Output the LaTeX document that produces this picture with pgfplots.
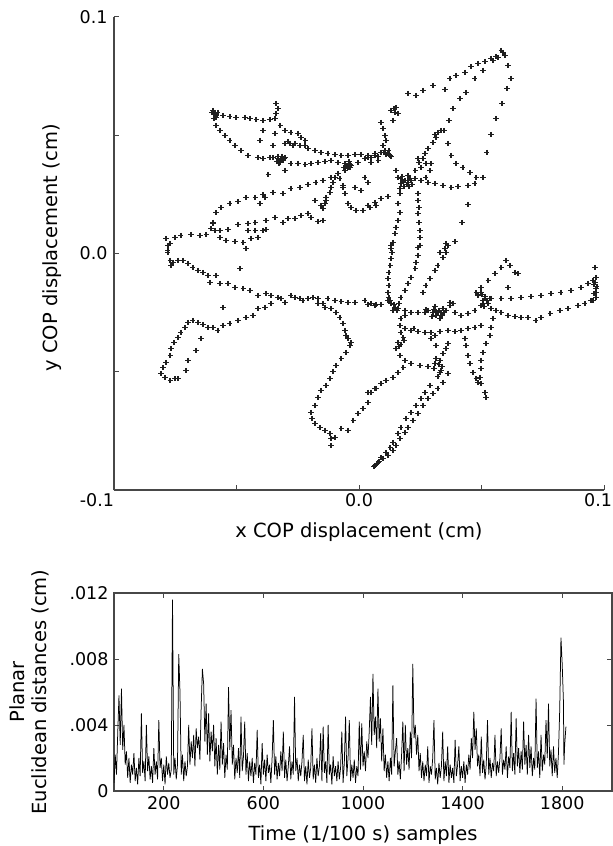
\documentclass[border=0pt]{standalone}
\usepackage{pgfplots}
\pgfplotsset{compat=1.18}
\usetikzlibrary{calc}
\usepackage{fontspec}
\setmainfont{DejaVu Sans}
\begin{document}
\begin{tikzpicture}[x=1pt,y=1pt]
\pgfplotsset{every axis/.append style={font=\fontsize{19.5}{22}\selectfont},
  every tick label/.append style={font=\fontsize{17.5}{20}\selectfont}}
% ---------------- top panel: COP trajectory ----------------
\begin{axis}[
  name=top,
  at={(0pt,0pt)}, anchor=south west,
  scale only axis, width=490pt, height=473pt,
  xmin=-100, xmax=100, ymin=-100, ymax=100,
  axis x line=bottom, axis y line=left,
  axis line style={-, line width=1.3pt, color=black!72},
  tick align=inside, major tick length=5pt,
  tick style={line width=1pt, color=black!72},
  xtick={-100,-50,0,50,100},
  xticklabels={\makebox[0pt][r]{-0.1},,0.0,,\makebox[0pt][r]{0.1\kern-8pt}},
  ytick={-100,-50,0,50,100},
  yticklabels={,,0.0,,0.1},
  yticklabel style={xshift=-3pt},
  xlabel={x COP displacement (cm)},
  ylabel={y COP displacement (cm)},
  xlabel style={at={(axis description cs:0.5,-0.0888)}, anchor=center},
  ylabel style={at={(axis description cs:-0.1265,0.512)}, anchor=center},
]
\addplot[only marks, mark=+, mark size=2.6pt, mark options={line width=1.35pt, black!88}] coordinates {
(-59.6,60.5)(-58.8,59.2)(-58.4,57.5)(-59.2,57.1)(-57.6,59.6)
(-55.5,58.4)(-52.7,57.9)(-50.2,57.5)(-46.5,57.5)(-44.5,57.1)(-42.0,56.7)(-39.2,56.2)(-36.3,56.7)(-34.3,57.1)
(-33.9,63.4)(-33.1,61.3)(-33.9,59.2)
(-32.2,54.1)(-30.2,52.0)(-27.8,51.2)(-24.9,50.7)(-23.7,49.0)(-22.0,47.8)
(-58.4,54.1)(-56.7,52.0)(-54.7,49.9)(-52.7,47.8)(-50.6,45.7)(-48.2,43.6)(-45.3,41.4)(-41.2,40.6)(-39.2,40.2)
(-39.2,52.0)(-40.4,47.8)(-37.1,33.4)(-34.3,50.7)(-35.1,45.7)(-30.2,35.1)
(-30.2,46.5)(-28.2,46.5)(-26.1,46.5)(-24.1,45.7)(-22.0,45.7)
(-35.1,40.6)(-33.1,40.2)(-31.0,39.3)(-30.2,40.6)(-32.2,38.5)
(-27.8,38.1)(-24.9,38.1)(-22.0,37.6)(-19.6,38.1)(-16.7,38.5)(-13.9,38.9)(-11.4,39.3)(-8.6,38.5)(-5.7,38.1)(-4.5,36.4)(-3.3,37.2)(-0.4,38.5)(2.4,40.2)(4.9,40.6)(7.8,41.0)
(-20.8,44.4)(-18.0,43.6)(-15.5,42.7)(-12.7,42.3)(-9.8,41.9)(-7.3,41.4)(-4.5,41.4)(-1.6,41.9)(0.8,41.9)(3.7,41.4)(6.5,42.3)
(-9.8,32.1)(-10.6,30.0)(-11.4,27.9)(-11.8,25.8)(-13.5,23.7)(-13.9,21.1)(-14.7,19.0)
(-7.8,31.7)(-6.5,27.9)(-5.7,25.4)(-4.5,21.1)(-3.3,19.5)(-1.2,18.2)(1.6,18.2)(4.5,19.5)(6.9,20.3)
(-1.6,27.9)(0.8,26.6)(2.4,32.1)(3.7,30.0)
(-58.4,17.3)(-56.3,19.5)(-52.7,21.1)(-49.4,22.0)(-46.1,23.7)(-42.4,23.7)(-39.2,24.9)(-35.1,25.8)(-31.0,25.4)(-27.8,27.5)(-24.1,27.9)(-20.8,29.2)(-17.6,30.0)(-14.7,30.9)(-11.4,32.1)(-8.6,33.8)(-5.7,35.1)(-3.7,36.4)
(-40.4,21.1)(-38.4,23.7)(-18.0,22.4)(-15.5,20.3)
(-59.6,13.1)(-56.7,9.7)(-53.5,10.1)(-49.4,12.3)(-45.3,12.7)(-42.4,13.1)(-38.0,14.0)(-34.3,15.2)(-31.0,13.1)(-29.0,14.8)(-26.1,14.8)(-23.7,16.1)(-20.8,16.9)(-19.6,15.2)(-16.7,13.5)(-14.7,14.0)
(-58.8,9.7)(-56.7,6.8)(-54.3,5.5)(-50.6,5.1)(-47.3,4.7)(-44.1,6.3)(-41.2,6.8)(-45.3,9.7)(-42.4,9.7)(-39.2,9.7)(-38.0,10.1)
(-46.1,2.1)
(-78.8,6.3)(-77.1,4.2)(-78.0,1.3)(-75.1,6.8)(-72.7,7.6)(-68.6,8.0)(-64.9,7.6)(-62.4,8.0)(-60.4,10.6)(-59.6,12.7)
(-78.0,3.4)(-78.0,0.4)(-77.1,-3.0)(-76.7,-5.1)(-75.9,-3.8)(-73.9,-3.0)(-71.8,-3.0)(-69.8,-4.2)(-67.8,-5.9)(-65.7,-7.2)(-63.7,-8.0)(-61.6,-9.3)(-60.8,-12.3)(-58.4,-9.3)(-56.7,-12.7)(-53.5,-12.7)(-50.6,-14.4)(-47.3,-14.8)(-44.5,-15.6)(-41.2,-17.8)(-38.0,-16.9)(-35.9,-17.8)(-33.1,-18.6)(-31.8,-19.0)(-30.2,-20.7)(-27.8,-17.8)(-26.1,-18.6)(-24.1,-19.0)(-22.9,-19.9)(-20.8,-19.0)(-18.8,-18.6)(-16.7,-19.0)(-14.7,-21.1)(-12.7,-19.0)(-9.8,-19.9)(-7.3,-20.3)(-4.5,-20.7)(-1.6,-20.7)(2.4,-19.9)(4.9,-21.1)(6.9,-21.6)
(-48.6,-6.3)
(-43.3,-26.2)(-46.1,-27.1)(-49.4,-28.3)(-52.7,-29.6)(-55.5,-30.4)(-57.6,-32.6)(-59.6,-31.3)(-61.6,-31.3)(-63.7,-30.0)(-65.7,-29.2)(-67.8,-28.3)(-69.8,-29.2)(-71.0,-31.3)(-72.7,-33.4)(-73.9,-35.5)(-75.5,-37.6)(-76.7,-40.2)(-77.1,-43.1)(-78.8,-46.1)(-80.0,-48.2)(-80.8,-50.7)(-79.2,-52.4)(-77.1,-53.7)(-75.1,-52.9)(-73.9,-52.9)
(-64.5,-35.9)(-66.5,-41.0)(-69.8,-45.2)(-70.6,-49.5)
(-55.5,-22.8)(-41.2,-23.3)(-38.4,-22.8)(-35.9,-21.1)
(-16.7,-21.1)(-13.9,-22.8)(-11.4,-23.3)(-9.4,-24.9)(-7.8,-27.1)(-6.5,-29.6)(-5.7,-32.6)(-5.3,-34.7)(-4.5,-35.9)(-3.3,-37.6)(-3.7,-38.9)(-5.3,-41.9)(-7.3,-44.4)(-9.4,-47.4)(-10.6,-49.9)(-11.8,-52.9)(-13.5,-55.8)(-15.5,-57.9)(-16.7,-60.9)(-18.0,-64.3)(-19.6,-67.2)(-19.2,-69.8)(-18.0,-71.9)(-15.9,-73.6)(-13.9,-74.8)(-11.8,-76.1)(-11.4,-78.2)(-11.4,-81.2)
(-9.8,-77.8)(-7.3,-74.0)(-4.5,-74.8)(-2.4,-70.6)(-0.4,-67.7)(1.6,-65.5)(3.7,-63.0)(4.9,-58.8)(6.9,-57.1)
(3.7,-21.6)(6.5,-22.0)(9.0,-21.6)
(13.1,3.4)(13.5,0.4)(13.1,-2.1)(12.7,-5.1)(12.2,-8.0)(11.8,-10.6)(12.2,-13.5)(11.8,-16.5)(12.2,-18.6)(12.7,-19.9)(13.1,-21.1)(14.7,-22.8)
(24.9,3.4)(24.1,-0.8)(23.3,-3.8)(22.9,-6.3)(21.2,-10.1)(20.0,-12.7)(18.8,-15.6)(17.1,-18.6)
(36.3,3.4)(35.5,0.4)(34.3,-1.7)(32.2,-5.1)(31.0,-7.2)(29.0,-10.6)(27.3,-13.5)(26.1,-16.5)
(60.0,-3.0)(58.0,-5.9)(55.5,-8.5)(52.7,-11.4)(49.8,-14.4)(47.8,-16.5)
(61.6,-5.1)(63.7,-8.0)(64.9,-8.5)(60.8,-14.4)
(53.9,-19.0)(58.0,-19.0)(62.0,-19.0)(66.1,-18.6)(70.2,-18.2)(74.3,-17.8)(78.4,-16.9)(82.4,-16.5)(86.5,-15.6)(90.6,-14.4)(93.5,-12.7)(95.5,-11.4)(96.7,-10.1)(96.3,-5.9)
(96.3,-12.3)(96.7,-14.8)(95.9,-16.9)(96.7,-18.6)(95.5,-19.9)(97.1,-13.9)
(94.7,-19.9)(92.2,-21.1)(89.4,-22.0)(85.3,-23.3)(82.0,-24.1)(78.0,-25.4)(74.3,-27.1)(72.2,-28.3)(69.0,-27.1)(66.1,-27.1)(63.7,-26.6)(60.8,-26.2)(58.0,-24.9)(55.9,-24.1)(53.9,-23.3)
(51.4,-19.0)(49.8,-16.5)(48.6,-17.8)(52.7,-21.1)(50.6,-19.9)
(28.2,-24.1)(30.2,-24.9)(32.2,-24.9)(33.5,-24.9)(35.5,-24.1)(37.1,-20.7)(38.4,-21.1)(31.4,-26.2)(34.3,-23.3)
(15.9,-23.3)(18.8,-24.1)(21.2,-24.9)(24.1,-24.9)(26.9,-24.9)(39.2,-24.9)(41.6,-26.2)(44.5,-25.4)(47.3,-24.1)(49.8,-22.0)
(18.8,-31.7)(21.2,-32.6)(24.1,-33.0)(26.9,-33.4)(29.4,-33.4)(33.1,-33.0)(36.3,-32.6)(39.2,-33.0)(41.6,-32.6)(44.5,-31.7)(47.3,-31.3)(49.8,-30.4)
(15.9,-37.6)(15.1,-40.2)(16.7,-43.1)(18.8,-45.2)(21.2,-46.5)(24.9,-47.4)(28.2,-47.8)(31.0,-46.5)(33.1,-45.2)(34.3,-42.3)(35.5,-40.2)(36.3,-38.1)
(31.4,-44.4)(32.7,-46.9)(33.5,-49.5)(33.1,-50.3)
(17.1,-27.5)(16.7,-30.4)(17.1,-33.4)(18.0,-35.5)(31.0,-34.7)(31.4,-38.9)(29.4,-35.9)
(43.3,-35.9)(43.7,-38.9)(44.5,-43.1)(45.3,-46.5)(46.5,-50.3)(47.8,-52.9)(49.8,-55.0)(51.4,-58.8)(51.8,-60.9)
(54.7,-27.5)(53.9,-31.3)(53.5,-34.7)(51.8,-38.1)(50.6,-41.9)(49.8,-45.2)(49.8,-48.6)(49.4,-52.4)(48.6,-54.5)
(36.3,-50.7)(34.3,-54.5)(32.2,-57.1)(30.2,-59.2)(28.2,-61.3)(26.1,-64.3)(24.1,-67.7)(22.0,-70.6)(20.0,-73.6)(18.8,-75.7)(16.7,-78.2)(15.1,-81.2)(13.9,-83.3)(11.8,-85.4)(9.8,-86.7)(7.8,-88.4)(6.5,-89.6)
(7.3,-88.8)(6.1,-90.1)(8.2,-88.0)
(29.0,-55.8)(26.9,-58.8)(25.3,-61.3)(23.3,-64.3)(21.2,-67.2)(19.2,-69.8)(17.1,-73.6)(15.9,-76.1)(13.9,-79.9)(12.7,-82.0)(11.0,-84.1)(9.0,-86.3)
(3.7,-58.8)(6.5,-57.1)(9.0,-55.0)(11.0,-53.7)(13.9,-52.4)(15.9,-50.3)(18.0,-48.2)
(3.7,40.6)(6.5,41.4)(9.0,42.7)(10.6,43.6)(11.8,42.3)(7.8,39.3)(4.9,38.5)
(9.0,55.4)(9.8,52.9)(10.6,49.9)(11.0,47.8)(9.8,45.7)
(13.1,60.5)(14.7,59.6)(15.1,61.7)(15.9,59.2)(13.9,56.2)
(15.1,35.1)(15.9,32.1)(17.1,29.6)(16.7,25.4)(15.9,21.1)(16.7,17.3)(15.9,14.0)(15.1,11.0)(14.7,8.5)(13.9,4.7)(13.1,2.1)
(18.8,30.9)(20.0,30.0)(21.2,30.9)
(24.1,25.4)(24.1,22.4)(24.5,19.5)(24.1,16.9)(24.5,13.1)(24.9,9.7)(24.9,6.8)(24.1,2.5)
(3.7,20.3)(6.5,21.6)(9.0,23.3)(11.8,24.1)
(20.0,67.7)(23.3,66.8)(26.1,68.9)(30.2,71.0)(35.1,69.3)(37.1,74.0)(39.6,75.3)(43.3,76.5)(45.7,79.1)(48.6,80.3)(51.4,81.2)(53.9,82.5)(56.7,82.9)(58.8,85.0)
(58.0,85.8)(59.6,83.7)(55.9,83.3)
(62.0,74.0)(60.4,69.8)(58.4,63.4)(55.9,57.1)(53.9,50.3)(52.2,42.7)(44.5,20.7)(42.0,13.1)(39.2,5.1)(60.8,79.5)
(54.7,81.6)(50.6,77.4)(47.3,74.0)(43.7,68.1)(41.2,65.5)(38.4,61.3)(36.7,56.2)(34.7,52.0)
(32.2,51.2)(33.5,52.0)(31.0,50.3)
(36.3,46.5)(37.6,41.4)(39.6,38.1)(42.4,36.4)(45.3,34.2)(47.8,32.1)(50.6,32.1)
(47.3,29.6)(44.5,28.8)(40.4,28.3)(37.6,27.9)(34.3,28.8)(31.0,29.6)(28.2,30.0)(25.3,30.9)(22.9,31.7)(20.0,30.9)(17.1,31.7)
(24.1,40.2)(26.9,42.3)(28.2,44.4)(30.2,46.9)(31.4,49.0)(27.3,38.1)(25.3,36.4)(22.9,35.1)(20.0,33.0)(29.4,38.1)(29.0,35.1)(27.3,32.1)
(35.1,2.1)(33.1,0.4)(35.5,4.2)
(-59.2,58.8)(-58.0,58.4)(-60.0,59.6)(-31.8,39.7)(-33.5,38.9)(-30.6,40.2)(-29.0,47.4)(-26.9,45.7)
(-5.3,36.8)(-3.7,37.6)(12.7,41.4)(11.0,41.9)(12.2,43.6)(14.3,61.3)(19.6,29.2)(18.0,30.4)(20.4,28.3)
(31.4,-24.9)(32.7,-24.1)(30.6,-23.7)(33.9,-26.2)(51.4,-18.2)(52.2,-19.9)(50.6,-21.1)
(16.3,-21.1)(13.9,-24.1)(17.1,-38.5)(37.1,-22.0)(18.8,-26.2)(11.8,-19.9)(-33.1,41.0)
(17.6,32.6)(20.8,31.7)(18.4,28.3)(21.6,29.2)(16.7,27.5)
(31.0,-22.4)(34.7,-24.9)(29.8,-26.6)(33.1,-27.5)(27.3,-23.7)
(50.2,-17.3)(53.5,-19.0)(51.0,-22.4)(96.7,-16.5)(95.9,-13.1)
(-31.4,41.0)(-32.7,38.1)(-6.1,36.4)(-4.1,38.9)(10.2,42.7)(13.1,41.0)
(33.9,-47.8)(30.6,-48.6)(32.2,-52.0)(16.3,-39.3)(18.4,-36.8)(22.4,-31.7)
(14.3,-21.6)(15.5,-24.1)(-36.3,40.6)(-13.5,22.4)(-6.5,28.8)(24.5,38.5)(26.1,40.2)
};
\end{axis}
% ---------------- bottom panel: planar distances ----------------
\begin{axis}[
  at={($(top.south west)+(0pt,-103pt)$)}, anchor=north west,
  scale only axis, width=498pt, height=198pt,
  xmin=0, xmax=2000, ymin=0, ymax=12,
  axis line style={line width=1.3pt, color=black!72},
  tick align=inside, major tick length=5pt,
  tick style={line width=1pt, color=black!72},
  xtick={200,600,1000,1400,1800},
  xticklabels={200,600,1000,1400,1800},
  ytick={0,4,8,12},
  yticklabels={0,.004,.008,.012},
  yticklabel style={xshift=-2pt},
  xticklabel style={yshift=-2pt},
  xlabel={Time (1/100 s) samples},
  ylabel={Planar\\Euclidean distances (cm)},
  xlabel style={at={(axis description cs:0.5,-0.222)}, anchor=center},
  ylabel style={at={(axis description cs:-0.1707,0.5)}, anchor=center, align=center},
]
\addplot[black, line width=0.75pt, line join=bevel] coordinates {
(0,0.5)(5,2.2)(10,1.0)(15,3.5)(20,5.8)(25,2.8)(30,6.2)(35,2.5)(40,4.0)(45,1.6)
(50,2.4)(55,0.8)(60,2.0)(65,0.5)(70,1.6)(75,1.0)(80,2.3)(85,0.6)(90,1.4)(95,0.4)
(100,2.0)(105,0.9)(110,4.7)(115,1.1)(120,1.8)(125,0.6)(130,4.0)(135,1.2)(140,2.1)(145,0.7)
(150,1.5)(155,0.5)(160,2.6)(165,1.0)(170,1.8)(175,0.7)(180,4.3)(185,1.4)(190,2.0)(195,0.6)
(200,1.6)(205,0.4)(210,2.1)(215,1.0)(220,1.7)(225,0.8)(230,1.3)(235,11.6)(240,1.0)(245,2.0)
(250,0.7)(255,1.6)(260,8.3)(265,6.0)(270,1.0)(275,2.2)(280,0.6)(285,1.8)(290,0.9)(295,1.5)
(300,4.0)(305,1.6)(310,3.0)(315,2.0)(320,3.4)(325,1.5)(330,3.8)(335,2.6)(340,3.3)(345,1.9)
(350,5.0)(355,7.4)(360,6.5)(365,3.0)(370,5.3)(375,2.2)(380,4.7)(385,1.8)(390,3.6)(395,2.4)
(400,4.0)(405,1.5)(410,3.2)(415,1.0)(420,2.8)(425,1.3)(430,4.2)(435,1.6)(440,2.9)(445,0.8)
(450,2.2)(455,1.3)(460,6.3)(465,2.5)(470,4.9)(475,1.6)(480,2.8)(485,0.7)(490,2.0)(495,1.1)
(500,2.6)(505,0.8)(510,4.5)(515,1.2)(520,2.1)(525,4.2)(530,1.0)(535,2.3)(540,0.6)(545,1.8)
(550,0.9)(555,2.0)(560,0.5)(565,1.7)(570,1.0)(575,3.7)(580,0.8)(585,1.6)(590,0.4)(595,2.9)
(600,1.0)(605,1.9)(610,0.6)(615,2.2)(620,1.1)(625,1.6)(630,0.5)(635,2.0)(640,4.3)(645,1.0)
(650,2.1)(655,0.7)(660,1.7)(665,0.9)(670,2.4)(675,1.2)(680,3.6)(685,0.8)(690,1.9)(695,0.6)
(700,1.5)(705,2.7)(710,0.7)(715,1.8)(720,1.0)(725,5.7)(730,1.2)(735,2.0)(740,0.6)(745,1.6)
(750,0.9)(755,1.8)(760,3.4)(765,0.6)(770,1.5)(775,0.4)(780,1.9)(785,0.8)(790,1.4)(795,3.8)
(800,0.7)(805,1.6)(810,0.5)(815,2.0)(820,0.9)(825,1.5)(830,3.5)(835,0.6)(840,3.9)(845,1.1)
(850,1.8)(855,0.5)(860,4.0)(865,1.0)(870,1.6)(875,0.4)(880,2.1)(885,0.9)(890,1.5)(895,0.6)
(900,1.8)(905,0.7)(910,1.4)(915,3.6)(920,0.5)(925,1.7)(930,4.5)(935,0.9)(940,2.0)(945,4.3)
(950,0.6)(955,1.6)(960,0.8)(965,1.9)(970,0.5)(975,1.5)(980,0.9)(985,4.2)(990,1.3)(995,4.1)
(1000,1.5)(1005,2.4)(1010,1.2)(1015,3.0)(1020,2.0)(1025,3.6)(1030,5.7)(1035,2.8)(1040,7.1)(1045,3.4)
(1050,4.5)(1055,2.6)(1060,6.2)(1065,3.0)(1070,4.4)(1075,1.8)(1080,3.8)(1085,1.2)(1090,2.2)(1095,0.8)
(1100,1.8)(1105,0.6)(1110,2.0)(1115,1.0)(1120,6.4)(1125,1.5)(1130,2.4)(1135,3.2)(1140,1.0)(1145,1.8)
(1150,0.7)(1155,2.2)(1160,4.2)(1165,1.2)(1170,4.0)(1175,1.6)(1180,2.6)(1185,1.3)(1190,3.6)(1195,2.0)
(1200,7.7)(1205,3.2)(1210,4.0)(1215,2.2)(1220,3.4)(1225,1.2)(1230,2.3)(1235,0.8)(1240,1.8)(1245,0.6)
(1250,1.6)(1255,0.9)(1260,2.7)(1265,0.5)(1270,1.5)(1275,1.0)(1280,2.0)(1285,4.3)(1290,0.7)(1295,1.4)
(1300,0.4)(1305,1.7)(1310,0.8)(1315,1.5)(1320,3.6)(1325,0.6)(1330,1.8)(1335,0.9)(1340,2.7)(1345,0.5)
(1350,1.6)(1355,0.8)(1360,1.4)(1365,0.5)(1370,3.1)(1375,0.9)(1380,1.6)(1385,2.7)(1390,0.6)(1395,1.5)
(1400,0.8)(1405,1.8)(1410,0.5)(1415,1.6)(1420,1.0)(1425,2.2)(1430,1.3)(1435,3.2)(1440,2.0)(1445,4.8)
(1450,2.5)(1455,3.8)(1460,1.5)(1465,2.2)(1470,0.9)(1475,3.3)(1480,1.1)(1485,1.9)(1490,0.7)(1495,1.6)
(1500,4.3)(1505,1.0)(1510,2.0)(1515,0.8)(1520,1.7)(1525,1.2)(1530,3.4)(1535,0.9)(1540,1.8)(1545,1.1)
(1550,2.0)(1555,3.8)(1560,1.0)(1565,1.9)(1570,1.3)(1575,2.7)(1580,0.8)(1585,2.1)(1590,1.4)(1595,4.8)
(1600,1.2)(1605,2.3)(1610,1.0)(1615,4.4)(1620,1.5)(1625,2.6)(1630,1.1)(1635,2.4)(1640,1.3)(1645,4.2)
(1650,1.6)(1655,2.8)(1660,1.0)(1665,3.4)(1670,1.4)(1675,2.7)(1680,0.9)(1685,2.0)(1690,1.3)(1695,5.6)
(1700,1.4)(1705,2.4)(1710,0.8)(1715,3.4)(1720,1.2)(1725,2.2)(1730,1.6)(1735,4.3)(1740,2.0)(1745,5.3)
(1750,1.5)(1755,2.5)(1760,0.9)(1765,2.7)(1770,1.1)(1775,2.0)(1780,0.8)(1785,2.3)(1790,4.9)(1795,9.3)
(1800,7.7)(1805,5.4)(1807,1.6)(1810,2.8)(1815,3.9)
};
\end{axis}
\pgfresetboundingbox
\useasboundingbox (-114pt,-356pt) rectangle (499pt,490pt);
\end{tikzpicture}
\end{document}
